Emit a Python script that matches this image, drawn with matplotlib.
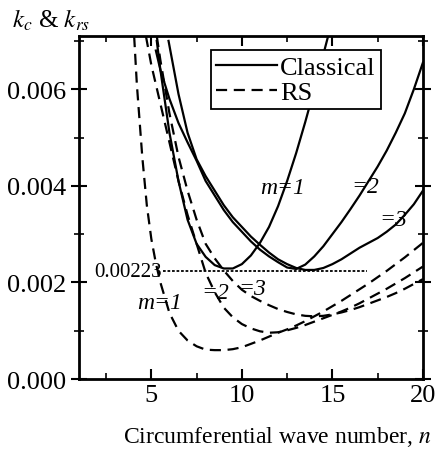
import matplotlib.pyplot as plt
import numpy as np

plt.rcParams['font.family'] = ['Liberation Serif', 'DejaVu Serif']
plt.rcParams['mathtext.fontset'] = 'stix'

# classical solution, k_c
n_c1 = [5.3, 5.5, 6.0, 6.5, 7.0, 7.5, 8.0, 8.5, 9.0, 9.5, 10.0, 10.5, 11.0, 11.5,
        12.0, 12.5, 13.0, 13.5, 14.0, 14.5, 14.8]
k_c1 = [0.0070, 0.0064, 0.0051, 0.0041, 0.0033, 0.0028, 0.00253, 0.00236, 0.00229,
        0.00229, 0.00238, 0.00256, 0.00282, 0.00315, 0.00358, 0.00410, 0.00468,
        0.00532, 0.00600, 0.00672, 0.00715]
n_c2 = [5.25, 5.5, 6.0, 6.5, 7.0, 7.5, 8.0, 8.5, 9.0, 9.5, 10.0, 10.5, 11.0, 11.5,
        12.0, 12.5, 13.0, 13.5, 14.0, 14.5, 15.0, 15.5, 16.0, 16.5, 17.0, 17.5,
        18.0, 18.5, 19.0, 19.5, 20.0]
k_c2 = [0.0068, 0.0064, 0.0058, 0.0053, 0.0049, 0.00452, 0.0041, 0.0038, 0.0035,
        0.00325, 0.00305, 0.00285, 0.00268, 0.00254, 0.00242, 0.00231, 0.00228,
        0.00237, 0.00254, 0.00275, 0.00300, 0.00325, 0.00352, 0.00380, 0.00410,
        0.00440, 0.00473, 0.00510, 0.00550, 0.00600, 0.00655]
n_c3 = [5.95, 6.0, 6.5, 7.0, 7.5, 8.0, 8.5, 9.0, 9.5, 10.0, 10.5, 11.0, 11.5, 12.0,
        12.5, 13.0, 13.5, 14.0, 14.5, 15.0, 15.5, 16.0, 16.5, 17.0, 17.5, 18.0,
        18.5, 19.0, 19.5, 20.0]
k_c3 = [0.0070, 0.0069, 0.0059, 0.0051, 0.00455, 0.0042, 0.0039, 0.0036, 0.00335,
        0.00315, 0.00295, 0.00278, 0.00262, 0.00248, 0.00238, 0.00230, 0.00226,
        0.00226, 0.00230, 0.00238, 0.00248, 0.00260, 0.00272, 0.00282, 0.00292,
        0.00305, 0.00320, 0.00340, 0.00362, 0.00390]

# reduced stiffness, k_rs
n_r1 = [4.05, 4.2, 4.5, 4.75, 5.0, 5.25, 5.5, 6.0, 6.5, 7.0, 7.5, 8.0, 8.5, 9.0,
        9.5, 10.0, 10.5, 11.0, 11.5, 12.0, 12.5, 13.0, 13.5, 14.0, 14.5, 15.0,
        15.5, 16.0, 16.5, 17.0, 17.5, 18.0, 18.5, 19.0, 19.5, 20.0]
k_r1 = [0.0071, 0.0061, 0.0046, 0.0036, 0.0029, 0.0024, 0.0020, 0.00137, 0.00100,
        0.00080, 0.00068, 0.00061, 0.00060, 0.00060, 0.00062, 0.00066, 0.00073,
        0.00080, 0.00088, 0.00096, 0.00103, 0.00111, 0.00120, 0.00130, 0.00140,
        0.00151, 0.00162, 0.00174, 0.00186, 0.00198, 0.00211, 0.00224, 0.00238,
        0.00252, 0.00267, 0.00282]
n_r2 = [4.7, 5.0, 5.5, 6.0, 6.5, 7.0, 7.5, 8.0, 8.5, 9.0, 9.5, 10.0, 10.5, 11.0,
        11.5, 12.0, 12.5, 13.0, 13.5, 14.0, 14.5, 15.0, 15.5, 16.0, 16.5, 17.0,
        17.5, 18.0, 18.5, 19.0, 19.5, 20.0]
k_r2 = [0.0071, 0.0065, 0.0057, 0.0049, 0.0041, 0.0034, 0.0028, 0.0022, 0.0018,
        0.00148, 0.00128, 0.00114, 0.00105, 0.00099, 0.00096, 0.00097, 0.00101,
        0.00106, 0.00112, 0.00119, 0.00126, 0.00133, 0.00140, 0.00148, 0.00157,
        0.00167, 0.00177, 0.00187, 0.00198, 0.00209, 0.00221, 0.00233]
n_r3 = [5.3, 5.5, 6.0, 6.5, 7.0, 7.5, 8.0, 8.5, 9.0, 9.5, 10.0, 10.5, 11.0, 11.5,
        12.0, 12.5, 13.0, 13.5, 14.0, 14.5, 15.0, 15.5, 16.0, 16.5, 17.0, 17.5,
        18.0, 18.5, 19.0, 19.5, 20.0]
k_r3 = [0.0071, 0.0066, 0.0055, 0.0046, 0.0039, 0.0033, 0.0028, 0.00250, 0.00225,
        0.00203, 0.00185, 0.00172, 0.00162, 0.00153, 0.00145, 0.00139, 0.00134,
        0.00131, 0.00130, 0.00131, 0.00134, 0.00138, 0.00143, 0.00149, 0.00156,
        0.00163, 0.00170, 0.00178, 0.00187, 0.00197, 0.00207]

k_min = 0.00223
n_min_line = [5.65, 16.9]

fig = plt.figure(figsize=(4.36, 4.52), dpi=100)
ax = fig.add_axes([0.181, 0.159, 0.789, 0.759])

lw = 1.6
ax.plot(n_c1, k_c1, 'k-', lw=lw, label='Classical')
ax.plot(n_c2, k_c2, 'k-', lw=lw)
ax.plot(n_c3, k_c3, 'k-', lw=lw)
dash = (0, (5, 3))
ax.plot(n_r1, k_r1, color='k', ls=dash, lw=lw, label='RS')
ax.plot(n_r2, k_r2, color='k', ls=dash, lw=lw)
ax.plot(n_r3, k_r3, color='k', ls=dash, lw=lw)
ax.plot(n_min_line, [k_min, k_min], color='k', ls=(0, (1.5, 1)), lw=1.3)

ax.text(5.6, k_min, '0.00223', ha='right', va='center', fontsize=15)

lab = dict(fontsize=17, style='italic', ha='center', va='center')
ax.text(12.25, 0.00396, 'm=1', **lab)
ax.text(16.8, 0.00398, '=2', **lab)
ax.text(18.35, 0.00330, '=3', **lab)
ax.text(5.45, 0.00158, 'm=1', **lab)
ax.text(8.55, 0.00180, '=2', **lab)
ax.text(10.6, 0.00187, '=3', **lab)

ax.set_xlim(1, 20)
ax.set_ylim(0, 0.0071)
ax.set_xticks([5, 10, 15, 20])
ax.set_xticks([2.5, 7.5, 12.5, 17.5], minor=True)
ax.set_yticks([0, 0.002, 0.004, 0.006])
ax.set_yticks([0.001, 0.003, 0.005, 0.007], minor=True)
ax.set_yticklabels(['0.000', '0.002', '0.004', '0.006'])
ax.tick_params(axis='both', which='major', labelsize=19, width=1.5, color='k')
ax.tick_params(axis='x', which='both', direction='in', top=True)
ax.tick_params(axis='x', which='major', length=7)
ax.tick_params(axis='x', which='minor', length=4, width=1.2)
ax.tick_params(axis='y', which='both', direction='inout', right=True)
ax.tick_params(axis='y', which='major', length=11)
ax.tick_params(axis='y', which='minor', length=7, width=1.2)
for s in ax.spines.values():
    s.set_linewidth(2)

leg = ax.legend(loc='upper right', bbox_to_anchor=(0.877, 0.958), fontsize=19,
                handlelength=2.3, handletextpad=0.1, borderpad=0.2,
                labelspacing=0.05, fancybox=False, framealpha=1,
                edgecolor='k', borderaxespad=0)
leg.get_frame().set_linewidth(1.3)

fig.text(0.027, 0.955, r'$k_c$ & $k_{rs}$', fontsize=18, va='center')
fig.text(0.99, 0.033, 'Circumferential wave number, $n$', fontsize=17,
         ha='right', va='center')

fig.savefig('out.png', dpi=100)
